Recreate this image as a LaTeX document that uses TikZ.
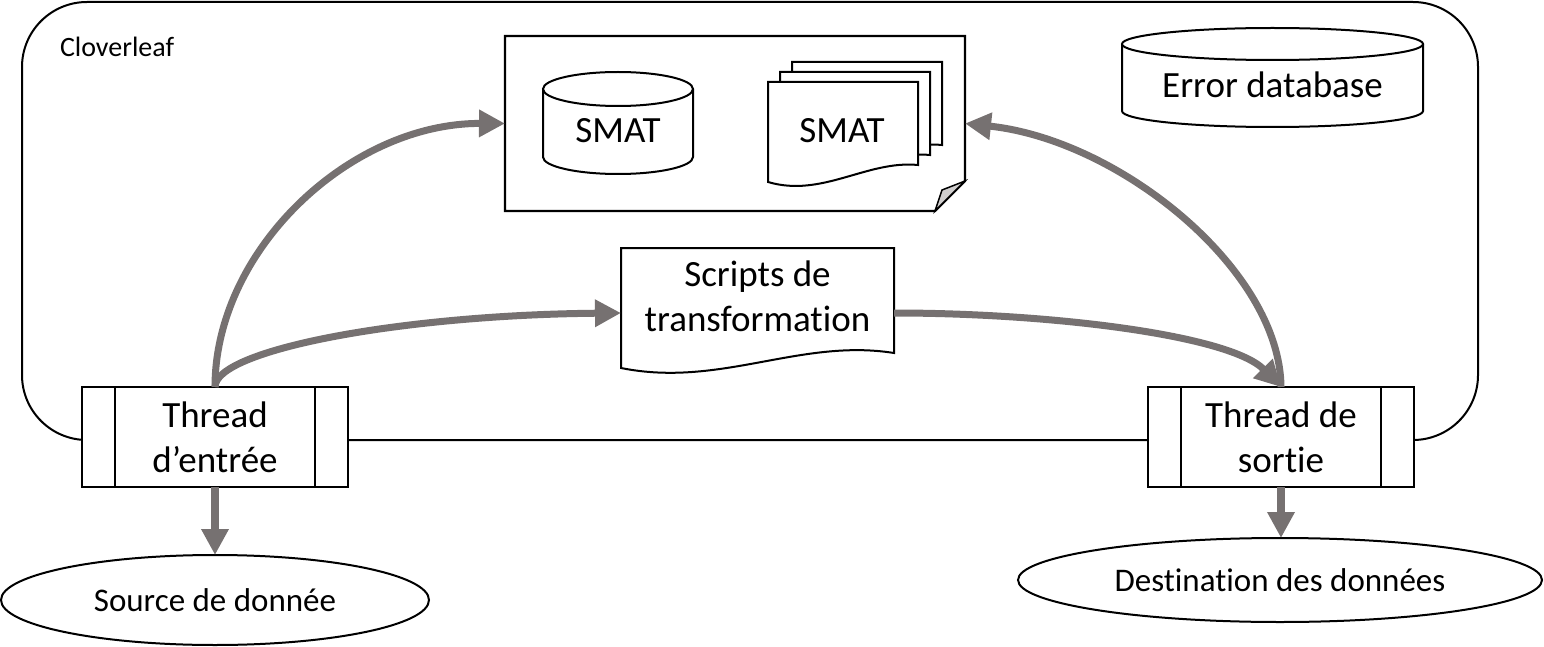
\documentclass[tikz,border=0pt]{standalone}
\usepackage{fontspec}
\setmainfont{Carlito}[Ligatures={NoCommon}]
\usetikzlibrary{arrows.meta,shapes.geometric}
\definecolor{arr}{HTML}{767171}
\definecolor{fold}{HTML}{D0CECE}
\begin{document}
\begin{tikzpicture}[x=1pt,y=-1pt,
 garrow/.style={draw=arr,line width=7pt,-{Triangle[length=26pt,width=26pt]}},
 thr/.style={draw,line width=2.2pt,fill=white,minimum width=266pt,minimum height=100pt,inner sep=0pt,outer sep=0pt,align=center,font=\fontsize{37}{45}\selectfont},
 ell/.style={ellipse,draw,line width=2pt,fill=white,inner sep=0pt,outer sep=0pt,font=\fontsize{33}{40}\selectfont},
 big/.style={inner sep=0pt,outer sep=0pt,align=center,font=\fontsize{37}{45}\selectfont},
 anch/.style={inner sep=0pt,outer sep=0pt,draw=none},
 shp/.style={draw,line width=2pt,fill=white}]
\useasboundingbox (0,0) rectangle (1544,647);
% outer Cloverleaf frame
\draw[line width=2pt,rounded corners=65pt] (22,2) rectangle (1478,440);
\node[anch,anchor=base west,font=\fontsize{28}{34}\selectfont] (clover) at (60,57) {Cloverleaf};
% SMAT container with folded corner
\node[anch,minimum width=460pt,minimum height=175pt] (smatbox) at (735,123.5) {};
\draw[line width=2.2pt,fill=white] (505,36) -- (965,36) -- (965,181) -- (935,211) -- (505,211) -- cycle;
\draw[line width=1.5pt,fill=fold] (965,181) -- (942,190) -- (935,211) -- cycle;
% SMAT cylinder
\draw[shp] (543,89) -- (543,157) arc[start angle=180,end angle=360,x radius=75pt,y radius=17pt] -- (693,89);
\draw[shp] (618,89) ellipse[x radius=75pt,y radius=17pt];
\node[big,anchor=base] (smatdb) at (618,143) {SMAT};
% SMAT document stack
\foreach \dx/\dy in {24/-20,12/-10,0/0}{
  \draw[shp,shift={(\dx,\dy)}] (768,82) -- (918,82) -- (918,165) .. controls (867,160) and (822,198) .. (768,182) -- cycle;
}
\node[big,anchor=base] (smatdoc) at (842,143) {SMAT};
% Error database cylinder
\draw[shp] (1122,44) -- (1122,111) arc[start angle=180,end angle=360,x radius=150.5pt,y radius=16pt] -- (1423,44);
\draw[shp] (1272.5,44) ellipse[x radius=150.5pt,y radius=16pt];
\node[big,anchor=base] (errdb) at (1272.5,98) {Error database};
% Scripts de transformation document
\node[anch,minimum width=273pt,minimum height=130pt] (scriptsbox) at (757.5,313) {};
\draw[shp] (621,248) -- (894,248) -- (894,353) .. controls (800,338) and (720,388) .. (621,368) -- cycle;
\node[big] (scripts) at (757.5,296.5) {Scripts de\\transformation};
% threads
\node[thr] (tin) at (215,437) {Thread\\d’entrée};
\draw[line width=1.5pt] ([xshift=33pt]tin.north west) -- ([xshift=33pt]tin.south west);
\draw[line width=1.5pt] ([xshift=-33pt]tin.north east) -- ([xshift=-33pt]tin.south east);
\node[thr] (tout) at (1281,437) {Thread de\\sortie};
\draw[line width=1.5pt] ([xshift=33pt]tout.north west) -- ([xshift=33pt]tout.south west);
\draw[line width=1.5pt] ([xshift=-33pt]tout.north east) -- ([xshift=-33pt]tout.south east);
% data source / destination
\node[ell,minimum width=428pt,minimum height=90pt] (src) at (215,600) {Source de donnée};
\node[ell,minimum width=524pt,minimum height=84pt] (dst) at (1280,580) {Destination des données};
% arrows
\draw[garrow] (tin.north) .. controls (215,250) and (350,123) .. (smatbox.west);
\draw[garrow] (tin.north) .. controls (215,350) and (400,315) .. (scriptsbox.west);
\draw[garrow] (scriptsbox.east) .. controls (1050,313) and (1230,335) .. (tout.north);
\draw[garrow] (tout.north) .. controls (1280,270) and (1120,140) .. (smatbox.east);
\draw[garrow,line width=8pt] (tin.south) -- (src.north);
\draw[garrow,line width=8pt] (tout.south) -- (tout.south |- dst.north);
\end{tikzpicture}
\end{document}
